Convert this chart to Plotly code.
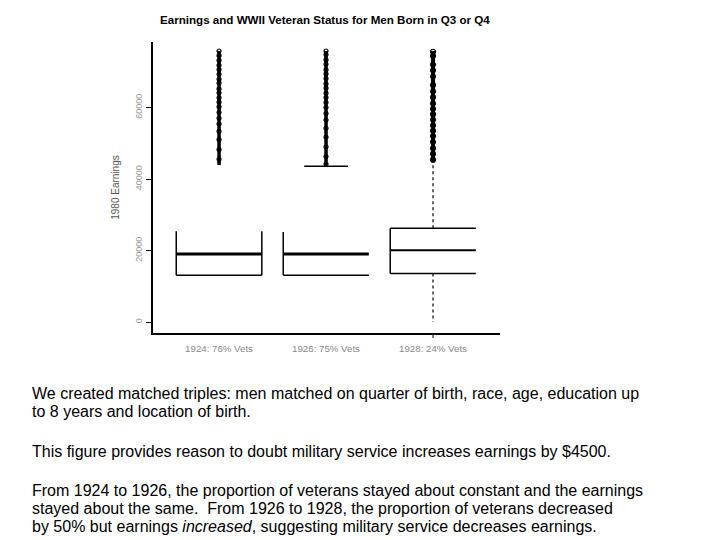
import plotly.graph_objects as go

# ---- data ----
groups = ["1924: 76% Vets", "1926: 75% Vets", "1928: 24% Vets"]
positions = [1, 2, 3]
q1 = [13100, 13100, 13600]
median = [19000, 19000, 20100]
q3 = [25400, 25200, 26200]
lower_whisker = [0, 0, 0]
upper_whisker = [43700, 43600, 44500]
outlier_low = [43900, 43700, 44700]
outlier_high = [75800, 75800, 75800]
outlier_marks = [
    [75800, 74500, 73200, 71800, 70600, 69300, 67900, 66800, 65200, 64100, 62700, 61500, 60200, 58600, 57000, 55400, 53300, 51000, 48200, 45500],
    [75800, 74800, 73300, 72100, 70500, 69400, 68100, 66600, 65400, 64000, 62800, 61400, 60000, 58300, 56500, 54200, 51700, 49000, 46300, 44200],
    [75600, 74400, 72000, 70400, 68700, 66300, 64500, 62900, 61100, 59600, 58100, 56600, 55000, 53500, 52000, 50400, 48600, 47000, 45400],
]
y_ticks = [0, 20000, 40000, 60000]

# ---- style ----
half = 0.40
cap_half = 0.204
FONT = "Liberation Sans, Arial, sans-serif"
# which parts of each box survive in the (degraded) reference image
parts = [
    dict(top=False, left=True, right=True, bottom=True, med_w=3, whisk=False, cap=False, col_w=3.5, mk=4),
    dict(top=False, left=True, right=False, bottom=True, med_w=3, whisk=False, cap=True, col_w=3.5, mk=4),
    dict(top=True, left=True, right=False, bottom=True, med_w=2, whisk=True, cap=False, col_w=4, mk=5),
]

fig = go.Figure()

def seg(x0, y0, x1, y1, width=1.5, dash="solid"):
    fig.add_trace(go.Scatter(x=[x0, x1], y=[y0, y1], mode="lines",
                             line=dict(color="black", width=width, dash=dash),
                             hoverinfo="skip", showlegend=False))

for i, p in enumerate(positions):
    st = parts[i]
    l, r = p - half, p + half
    if st["left"]:
        seg(l, q1[i], l, q3[i])
    if st["right"]:
        seg(r, q1[i], r, q3[i])
    if st["bottom"]:
        seg(l, q1[i], r, q1[i])
    if st["top"]:
        seg(l, q3[i], r, q3[i])
    seg(l, median[i], r, median[i], width=st["med_w"])
    if st["whisk"]:
        seg(p, q3[i], p, upper_whisker[i], width=1.2, dash="3px,3px")
        seg(p, q1[i], p, lower_whisker[i], width=1.2, dash="3px,3px")
    if st["cap"]:
        seg(p - cap_half, upper_whisker[i], p + cap_half, upper_whisker[i])
    # outlier column
    seg(p, outlier_low[i], p, outlier_high[i], width=st["col_w"])
    fig.add_trace(go.Scatter(x=[p] * len(outlier_marks[i]), y=outlier_marks[i], mode="markers",
                             marker=dict(symbol="circle-open", size=st["mk"], color="black", line=dict(width=1.2)),
                             hoverinfo="skip", showlegend=False))

y_bottom = 1 - 333 / 540
# lone x tick visible under the third group in the reference
fig.add_shape(type="line", xref="x", yref="paper", x0=positions[2], x1=positions[2],
              y0=y_bottom, y1=y_bottom - 5 / 540, line=dict(color="black", width=1))

fig.update_layout(
    width=720, height=540,
    margin=dict(l=0, r=0, t=0, b=0),
    paper_bgcolor="white", plot_bgcolor="white",
    font=dict(family=FONT, color="black"),
    showlegend=False,
    xaxis=dict(domain=[152.7 / 720, 500 / 720], range=[0.38, 3.626],
               showline=True, linecolor="black", linewidth=1.5, mirror=False,
               showgrid=False, zeroline=False,
               tickmode="array", tickvals=positions, ticktext=groups,
               ticks="", tickfont=dict(size=9.7, color="#888888"), ticklabelstandoff=6),
    yaxis=dict(domain=[y_bottom, 1 - 42 / 540], range=[-3077, 78322],
               showline=True, linecolor="black", linewidth=1.5,
               showgrid=False, zeroline=False,
               tickmode="array", tickvals=y_ticks, ticktext=[str(v) for v in y_ticks],
               ticks="outside", ticklen=5, tickwidth=1, tickcolor="black",
               tickangle=-90, tickfont=dict(size=9, color="#999999"), ticklabelstandoff=0,
               title=dict(text="1980 Earnings", font=dict(size=10, color="#555555"), standoff=13)),
)

fig.add_annotation(text="<b>Earnings and WWII Veteran Status for Men Born in Q3 or Q4</b>",
                   xref="paper", yref="paper", x=325 / 720, y=1 - 20 / 540,
                   xanchor="center", yanchor="middle", showarrow=False,
                   font=dict(size=11.6, color="black", family=FONT))

body_lines = [
    ("We created matched triples: men matched on quarter of birth, race, age, education up", 393),
    ("to 8 years and location of birth.", 411),
    ("This figure provides reason to doubt military service increases earnings by $4500.", 451),
    ("From 1924 to 1926, the proportion of veterans stayed about constant and the earnings", 490),
    ("stayed about the same.  From 1926 to 1928, the proportion of veterans decreased", 508),
    ("by 50% but earnings <i>increased</i>, suggesting military service decreases earnings.", 526),
]
for txt, py in body_lines:
    fig.add_annotation(text=txt, xref="paper", yref="paper", x=30 / 720, y=1 - py / 540,
                       xanchor="left", yanchor="middle", showarrow=False,
                       font=dict(size=16, color="black", family=FONT))

fig.write_html("out.html")
